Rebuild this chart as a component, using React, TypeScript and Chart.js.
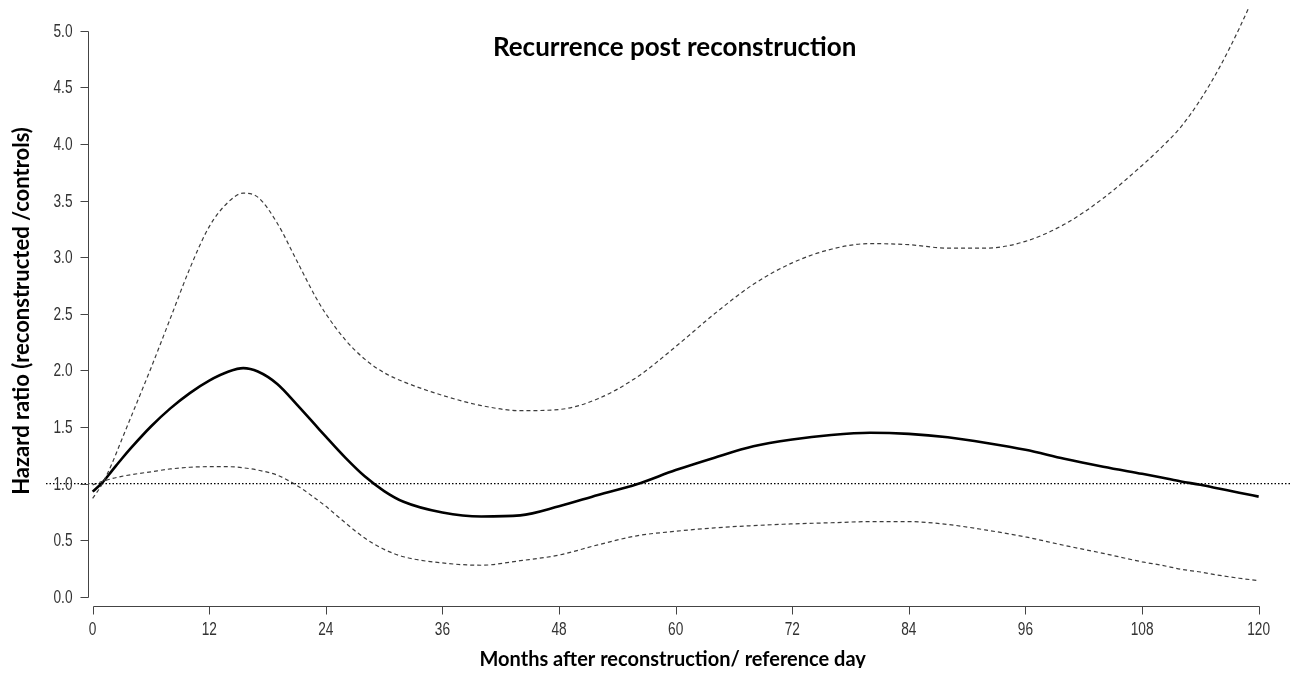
import React, { useEffect, useRef } from "react";
import { Chart, registerables } from "chart.js";

Chart.register(...registerables);

// ---------- data ----------
const months = [0, 1, 2, 3, 4, 6, 8, 10, 12, 14, 15.5, 17, 19, 21, 23, 24, 26, 28, 30, 32, 36, 40, 44, 48, 52, 56, 60, 64, 68, 72, 76, 80, 84, 88, 92, 96, 100, 104, 108, 110, 112, 114, 116, 118, 120];

const hazardRatio = [0.93, 1.01, 1.115, 1.22, 1.32, 1.505, 1.665, 1.8, 1.91, 1.99, 2.02, 1.99, 1.88, 1.7, 1.51, 1.415, 1.23, 1.065, 0.935, 0.84, 0.745, 0.71, 0.72, 0.8, 0.9, 0.995, 1.12, 1.23, 1.33, 1.39, 1.43, 1.45, 1.44, 1.41, 1.36, 1.3, 1.22, 1.15, 1.087, 1.055, 1.02, 0.99, 0.955, 0.92, 0.886];

const upperCI = [0.87, 1.0, 1.18, 1.39, 1.6, 2.02, 2.46, 2.9, 3.27, 3.49, 3.565, 3.53, 3.3, 2.97, 2.64, 2.5, 2.27, 2.1, 1.98, 1.9, 1.78, 1.69, 1.645, 1.655, 1.75, 1.94, 2.21, 2.5, 2.76, 2.95, 3.07, 3.12, 3.11, 3.08, 3.08, 3.14, 3.29, 3.52, 3.81, 3.97, 4.15, 4.39, 4.68, 5.02, 5.4];

const lowerCI = [0.99, 1.02, 1.045, 1.065, 1.08, 1.105, 1.13, 1.145, 1.15, 1.15, 1.14, 1.12, 1.075, 0.985, 0.865, 0.8, 0.655, 0.52, 0.42, 0.355, 0.3, 0.28, 0.32, 0.37, 0.46, 0.54, 0.58, 0.61, 0.63, 0.645, 0.655, 0.665, 0.665, 0.64, 0.59, 0.53, 0.455, 0.385, 0.31, 0.28, 0.245, 0.22, 0.19, 0.165, 0.144];

const referenceLevel = 1;

const xTicks = [0, 12, 24, 36, 48, 60, 72, 84, 96, 108, 120];
const yTicks = [0, 0.5, 1, 1.5, 2, 2.5, 3, 3.5, 4, 4.5, 5];

const chartTitle = "Recurrence post reconstruction";
const xTitle = "Months after reconstruction/ reference day";
const yTitle = "Hazard ratio (reconstructed /controls)";

// ---------- layout / style ----------
const CANVAS_W = 1291;
const CANVAS_H = 668;
const X_MIN = -4.8;
const X_MAX = 124.15;
const Y_MIN = -0.2;
const Y_MAX = 5.2;
const Y_AXIS_AT_X = -0.5; // where the y axis is drawn (x units)
const X_AXIS_AT_Y = -0.08; // where the x axis is drawn (y units)

const tickFont = "18px 'Liberation Sans', Arial, sans-serif";
const TICK_SQUEEZE = 0.76;
const boldFont = (px: number) => `bold ${px}px Lato, 'Open Sans', sans-serif`;

function squeezedText(ctx: CanvasRenderingContext2D, text: string, x: number, y: number) {
  ctx.save();
  ctx.translate(x, y);
  ctx.scale(TICK_SQUEEZE, 1);
  ctx.fillText(text, 0, 0);
  ctx.restore();
}

const rAxesPlugin = {
  id: "rAxes",
  afterDraw(chart: any) {
    const { ctx, scales } = chart;
    const x = scales.x;
    const y = scales.y;
    ctx.save();
    ctx.strokeStyle = "#444";
    ctx.lineWidth = 1;
    ctx.setLineDash([]);

    // y axis
    const ax = Math.round(x.getPixelForValue(Y_AXIS_AT_X)) + 0.5;
    const yTop = Math.round(y.getPixelForValue(yTicks[yTicks.length - 1])) + 0.5;
    const yBot = Math.round(y.getPixelForValue(yTicks[0])) + 0.5;
    ctx.beginPath();
    ctx.moveTo(ax, yTop);
    ctx.lineTo(ax, yBot);
    yTicks.forEach((v) => {
      const py = Math.round(y.getPixelForValue(v)) + 0.5;
      ctx.moveTo(ax, py);
      ctx.lineTo(ax - 8, py);
    });
    ctx.stroke();

    ctx.fillStyle = "#333";
    ctx.font = tickFont;
    ctx.textAlign = "right";
    ctx.textBaseline = "middle";
    yTicks.forEach((v) => {
      squeezedText(ctx, v.toFixed(1), ax - 16, y.getPixelForValue(v) + 1);
    });

    // x axis
    const ay = Math.round(y.getPixelForValue(X_AXIS_AT_Y)) + 0.5;
    const xL = Math.round(x.getPixelForValue(xTicks[0])) + 0.5;
    const xR = Math.round(x.getPixelForValue(xTicks[xTicks.length - 1])) + 0.5;
    ctx.beginPath();
    ctx.moveTo(xL, ay);
    ctx.lineTo(xR, ay);
    xTicks.forEach((v) => {
      const px = Math.round(x.getPixelForValue(v)) + 0.5;
      ctx.moveTo(px, ay);
      ctx.lineTo(px, ay + 8);
    });
    ctx.stroke();

    ctx.textAlign = "center";
    ctx.textBaseline = "middle";
    xTicks.forEach((v) => {
      squeezedText(ctx, String(v), x.getPixelForValue(v), ay + 24);
    });

    // titles
    const midX = x.getPixelForValue(60);
    ctx.fillStyle = "#000";
    ctx.textAlign = "center";
    ctx.textBaseline = "middle";
    ctx.font = boldFont(26);
    ctx.fillText(chartTitle, midX - 1, 40);

    ctx.font = boldFont(20);
    ctx.fillText(xTitle, midX - 3, 652);

    ctx.save();
    ctx.font = boldFont(22);
    ctx.translate(14, 303);
    ctx.rotate(-Math.PI / 2);
    ctx.fillText(yTitle, 0, 0);
    ctx.restore();

    ctx.restore();
  },
};

export default function App() {
  const canvasRef = useRef<HTMLCanvasElement | null>(null);

  useEffect(() => {
    const canvas = canvasRef.current;
    if (!canvas) return;
    const toPts = (vals: number[]) => months.map((m, i) => ({ x: m, y: vals[i] }));

    const chart = new Chart(canvas, {
      type: "line",
      data: {
        datasets: [
          {
            label: "Reference",
            data: [
              { x: X_MIN, y: referenceLevel },
              { x: X_MAX, y: referenceLevel },
            ],
            borderColor: "#000",
            borderWidth: 1.2,
            borderDash: [1.5, 2],
            pointRadius: 0,
            tension: 0,
            clip: 0,
          },
          {
            label: "Upper CI",
            data: toPts(upperCI),
            borderColor: "#3c3c3c",
            borderWidth: 1.2,
            borderDash: [4, 3],
            pointRadius: 0,
            cubicInterpolationMode: "monotone",
            clip: 0,
          },
          {
            label: "Lower CI",
            data: toPts(lowerCI),
            borderColor: "#3c3c3c",
            borderWidth: 1.2,
            borderDash: [4, 3],
            pointRadius: 0,
            cubicInterpolationMode: "monotone",
            clip: 0,
          },
          {
            label: "Hazard ratio",
            data: toPts(hazardRatio),
            borderColor: "#000",
            borderWidth: 2.6,
            pointRadius: 0,
            cubicInterpolationMode: "monotone",
            clip: 0,
          },
        ],
      },
      options: {
        animation: false,
        responsive: false,
        events: [],
        layout: { padding: { left: 38, right: 0, top: 0, bottom: CANVAS_H - 611.6 } },
        plugins: {
          legend: { display: false },
          title: { display: false },
          tooltip: { enabled: false },
        },
        scales: {
          x: { type: "linear", min: X_MIN, max: X_MAX, display: false },
          y: { type: "linear", min: Y_MIN, max: Y_MAX, display: false },
        },
      },
      plugins: [rAxesPlugin],
    });
    return () => chart.destroy();
  }, []);

  return (
    <div style={{ width: `${CANVAS_W}px`, height: `${CANVAS_H}px`, marginBottom: "-8px" }}>
      <canvas ref={canvasRef} width={CANVAS_W} height={CANVAS_H} style={{ display: "block" }} />
    </div>
  );
}
